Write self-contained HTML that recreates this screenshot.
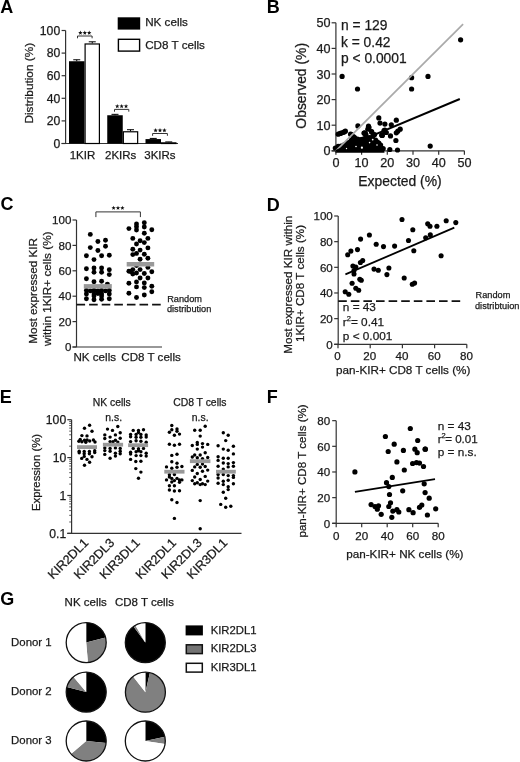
<!DOCTYPE html>
<html><head><meta charset="utf-8"><style>
html,body{margin:0;padding:0;background:#fff;}
svg{display:block;will-change:transform;}
text{font-family:"Liberation Sans", sans-serif;}
</style></head><body>
<svg width="520" height="762" viewBox="0 0 520 762" font-family='"Liberation Sans", sans-serif'>
<rect width="520" height="762" fill="#fff"/>
<text x="0.15" y="12.50" font-size="18" text-anchor="start" font-weight="bold" fill="#000">A</text>
<line x1="65.60" y1="30.50" x2="65.60" y2="143.50" stroke="#333" stroke-width="1.2"/>
<line x1="61.60" y1="143.50" x2="178.00" y2="143.50" stroke="#333" stroke-width="1.2"/>
<line x1="61.60" y1="143.50" x2="65.60" y2="143.50" stroke="#333" stroke-width="1.2"/>
<text x="60.20" y="147.70" font-size="12.2" text-anchor="end" fill="#1a1a1a" stroke="#1a1a1a" stroke-width="0.25">0</text>
<line x1="61.60" y1="120.90" x2="65.60" y2="120.90" stroke="#333" stroke-width="1.2"/>
<text x="60.20" y="125.10" font-size="12.2" text-anchor="end" fill="#1a1a1a" stroke="#1a1a1a" stroke-width="0.25">20</text>
<line x1="61.60" y1="98.30" x2="65.60" y2="98.30" stroke="#333" stroke-width="1.2"/>
<text x="60.20" y="102.50" font-size="12.2" text-anchor="end" fill="#1a1a1a" stroke="#1a1a1a" stroke-width="0.25">40</text>
<line x1="61.60" y1="75.70" x2="65.60" y2="75.70" stroke="#333" stroke-width="1.2"/>
<text x="60.20" y="79.90" font-size="12.2" text-anchor="end" fill="#1a1a1a" stroke="#1a1a1a" stroke-width="0.25">60</text>
<line x1="61.60" y1="53.10" x2="65.60" y2="53.10" stroke="#333" stroke-width="1.2"/>
<text x="60.20" y="57.30" font-size="12.2" text-anchor="end" fill="#1a1a1a" stroke="#1a1a1a" stroke-width="0.25">80</text>
<line x1="61.60" y1="30.50" x2="65.60" y2="30.50" stroke="#333" stroke-width="1.2"/>
<text x="60.20" y="34.70" font-size="12.2" text-anchor="end" fill="#1a1a1a" stroke="#1a1a1a" stroke-width="0.25">100</text>
<text x="32.60" y="83.20" font-size="11.8" text-anchor="middle" transform="rotate(-90 32.60 83.20)" fill="#1a1a1a" stroke="#1a1a1a" stroke-width="0.25">Distribution (%)</text>
<rect x="69.00" y="61.24" width="15.50" height="82.26" fill="#000"/>
<line x1="76.75" y1="61.24" x2="76.75" y2="59.77" stroke="#000" stroke-width="1"/>
<line x1="73.25" y1="59.77" x2="80.25" y2="59.77" stroke="#000" stroke-width="1"/>
<rect x="85.10" y="43.98" width="14.30" height="99.52" fill="#fff" stroke="#000" stroke-width="1.2"/>
<line x1="92.25" y1="43.38" x2="92.25" y2="41.80" stroke="#000" stroke-width="1"/>
<line x1="88.75" y1="41.80" x2="95.75" y2="41.80" stroke="#000" stroke-width="1"/>
<rect x="107.25" y="115.25" width="15.50" height="28.25" fill="#000"/>
<line x1="115.00" y1="115.25" x2="115.00" y2="114.35" stroke="#000" stroke-width="1"/>
<line x1="111.50" y1="114.35" x2="118.50" y2="114.35" stroke="#000" stroke-width="1"/>
<rect x="123.35" y="131.78" width="14.30" height="11.72" fill="#fff" stroke="#000" stroke-width="1.2"/>
<line x1="130.50" y1="131.18" x2="130.50" y2="129.71" stroke="#000" stroke-width="1"/>
<line x1="127.00" y1="129.71" x2="134.00" y2="129.71" stroke="#000" stroke-width="1"/>
<rect x="145.50" y="139.09" width="15.50" height="4.41" fill="#000"/>
<line x1="153.25" y1="139.09" x2="153.25" y2="138.41" stroke="#000" stroke-width="1"/>
<line x1="149.75" y1="138.41" x2="156.75" y2="138.41" stroke="#000" stroke-width="1"/>
<rect x="161.60" y="142.86" width="14.30" height="0.64" fill="#fff" stroke="#000" stroke-width="1.2"/>
<line x1="168.75" y1="142.26" x2="168.75" y2="141.92" stroke="#000" stroke-width="1"/>
<line x1="165.25" y1="141.92" x2="172.25" y2="141.92" stroke="#000" stroke-width="1"/>
<path d="M77.5 38.3 V36.0 H92.1 V38.3" fill="none" stroke="#333" stroke-width="1"/>
<polygon points="80.40,30.60 80.99,32.09 82.59,32.19 81.35,33.21 81.75,34.76 80.40,33.90 79.05,34.76 79.45,33.21 78.21,32.19 79.81,32.09" fill="#111"/>
<polygon points="84.80,30.60 85.39,32.09 86.99,32.19 85.75,33.21 86.15,34.76 84.80,33.90 83.45,34.76 83.85,33.21 82.61,32.19 84.21,32.09" fill="#111"/>
<polygon points="89.20,30.60 89.79,32.09 91.39,32.19 90.15,33.21 90.55,34.76 89.20,33.90 87.85,34.76 88.25,33.21 87.01,32.19 88.61,32.09" fill="#111"/>
<path d="M114.5 111.7 V109.4 H128.8 V111.7" fill="none" stroke="#333" stroke-width="1"/>
<polygon points="117.25,104.00 117.84,105.49 119.44,105.59 118.20,106.61 118.60,108.16 117.25,107.30 115.90,108.16 116.30,106.61 115.06,105.59 116.66,105.49" fill="#111"/>
<polygon points="121.65,104.00 122.24,105.49 123.84,105.59 122.60,106.61 123.00,108.16 121.65,107.30 120.30,108.16 120.70,106.61 119.46,105.59 121.06,105.49" fill="#111"/>
<polygon points="126.05,104.00 126.64,105.49 128.24,105.59 127.00,106.61 127.40,108.16 126.05,107.30 124.70,108.16 125.10,106.61 123.86,105.59 125.46,105.49" fill="#111"/>
<path d="M152.6 135.8 V133.5 H167.4 V135.8" fill="none" stroke="#333" stroke-width="1"/>
<polygon points="155.60,128.10 156.19,129.59 157.79,129.69 156.55,130.71 156.95,132.26 155.60,131.40 154.25,132.26 154.65,130.71 153.41,129.69 155.01,129.59" fill="#111"/>
<polygon points="160.00,128.10 160.59,129.59 162.19,129.69 160.95,130.71 161.35,132.26 160.00,131.40 158.65,132.26 159.05,130.71 157.81,129.69 159.41,129.59" fill="#111"/>
<polygon points="164.40,128.10 164.99,129.59 166.59,129.69 165.35,130.71 165.75,132.26 164.40,131.40 163.05,132.26 163.45,130.71 162.21,129.69 163.81,129.59" fill="#111"/>
<text x="82.50" y="158.50" font-size="11.5" text-anchor="middle" fill="#1a1a1a" stroke="#1a1a1a" stroke-width="0.25">1KIR</text>
<text x="120.70" y="158.50" font-size="11.5" text-anchor="middle" fill="#1a1a1a" stroke="#1a1a1a" stroke-width="0.25">2KIRs</text>
<text x="159.90" y="158.50" font-size="11.5" text-anchor="middle" fill="#1a1a1a" stroke="#1a1a1a" stroke-width="0.25">3KIRs</text>
<rect x="117.70" y="17.30" width="22.50" height="12.30" fill="#000"/>
<rect x="118.4" y="39.3" width="21.2" height="11.8" fill="#fff" stroke="#000" stroke-width="1.4"/>
<text x="145.20" y="26.40" font-size="11.65" text-anchor="start" fill="#1a1a1a" stroke="#1a1a1a" stroke-width="0.25">NK cells</text>
<text x="145.20" y="48.60" font-size="11.65" text-anchor="start" fill="#1a1a1a" stroke="#1a1a1a" stroke-width="0.25">CD8 T cells</text>
<text x="266.80" y="12.70" font-size="18" text-anchor="start" font-weight="bold" fill="#000">B</text>
<line x1="335.90" y1="22.80" x2="335.90" y2="150.80" stroke="#333" stroke-width="1.2"/>
<line x1="331.60" y1="150.80" x2="464.40" y2="150.80" stroke="#333" stroke-width="1.2"/>
<line x1="331.60" y1="150.80" x2="335.90" y2="150.80" stroke="#333" stroke-width="1.2"/>
<text x="330.60" y="155.30" font-size="12.6" text-anchor="end" fill="#1a1a1a" stroke="#1a1a1a" stroke-width="0.25">0</text>
<line x1="335.90" y1="150.80" x2="335.90" y2="154.80" stroke="#333" stroke-width="1.2"/>
<text x="335.90" y="167.30" font-size="12.6" text-anchor="middle" fill="#1a1a1a" stroke="#1a1a1a" stroke-width="0.25">0</text>
<line x1="331.60" y1="125.20" x2="335.90" y2="125.20" stroke="#333" stroke-width="1.2"/>
<text x="330.60" y="129.70" font-size="12.6" text-anchor="end" fill="#1a1a1a" stroke="#1a1a1a" stroke-width="0.25">10</text>
<line x1="361.60" y1="150.80" x2="361.60" y2="154.80" stroke="#333" stroke-width="1.2"/>
<text x="361.60" y="167.30" font-size="12.6" text-anchor="middle" fill="#1a1a1a" stroke="#1a1a1a" stroke-width="0.25">10</text>
<line x1="331.60" y1="99.60" x2="335.90" y2="99.60" stroke="#333" stroke-width="1.2"/>
<text x="330.60" y="104.10" font-size="12.6" text-anchor="end" fill="#1a1a1a" stroke="#1a1a1a" stroke-width="0.25">20</text>
<line x1="387.30" y1="150.80" x2="387.30" y2="154.80" stroke="#333" stroke-width="1.2"/>
<text x="387.30" y="167.30" font-size="12.6" text-anchor="middle" fill="#1a1a1a" stroke="#1a1a1a" stroke-width="0.25">20</text>
<line x1="331.60" y1="74.00" x2="335.90" y2="74.00" stroke="#333" stroke-width="1.2"/>
<text x="330.60" y="78.50" font-size="12.6" text-anchor="end" fill="#1a1a1a" stroke="#1a1a1a" stroke-width="0.25">30</text>
<line x1="413.00" y1="150.80" x2="413.00" y2="154.80" stroke="#333" stroke-width="1.2"/>
<text x="413.00" y="167.30" font-size="12.6" text-anchor="middle" fill="#1a1a1a" stroke="#1a1a1a" stroke-width="0.25">30</text>
<line x1="331.60" y1="48.40" x2="335.90" y2="48.40" stroke="#333" stroke-width="1.2"/>
<text x="330.60" y="52.90" font-size="12.6" text-anchor="end" fill="#1a1a1a" stroke="#1a1a1a" stroke-width="0.25">40</text>
<line x1="438.70" y1="150.80" x2="438.70" y2="154.80" stroke="#333" stroke-width="1.2"/>
<text x="438.70" y="167.30" font-size="12.6" text-anchor="middle" fill="#1a1a1a" stroke="#1a1a1a" stroke-width="0.25">40</text>
<line x1="331.60" y1="22.80" x2="335.90" y2="22.80" stroke="#333" stroke-width="1.2"/>
<text x="330.60" y="27.30" font-size="12.6" text-anchor="end" fill="#1a1a1a" stroke="#1a1a1a" stroke-width="0.25">50</text>
<line x1="464.40" y1="150.80" x2="464.40" y2="154.80" stroke="#333" stroke-width="1.2"/>
<text x="464.40" y="167.30" font-size="12.6" text-anchor="middle" fill="#1a1a1a" stroke="#1a1a1a" stroke-width="0.25">50</text>
<text x="306.50" y="85.80" font-size="13.9" text-anchor="middle" transform="rotate(-90 306.50 85.80)" fill="#1a1a1a" stroke="#1a1a1a" stroke-width="0.25">Observed (%)</text>
<text x="400.00" y="185.90" font-size="13.9" text-anchor="middle" fill="#1a1a1a" stroke="#1a1a1a" stroke-width="0.25">Expected (%)</text>
<polygon points="335.5,146.5 338,145 341,144 345,142.3 349,140.5 352,138.5 355,138 358,137.5 361,137 364.5,136.5 368.5,136.2 372,136.8 376,138.5 379,140 381,142.5 383,146.5 384,149.5 384.5,152.8 335.5,152.8" fill="#000"/>
<g fill="#000"><circle cx="460.6" cy="39.8" r="2.6"/><circle cx="342.1" cy="76.4" r="2.6"/><circle cx="357.5" cy="89.0" r="2.6"/><circle cx="411.6" cy="77.7" r="2.6"/><circle cx="411.6" cy="89.0" r="2.6"/><circle cx="428.0" cy="76.4" r="2.6"/><circle cx="430.2" cy="146.1" r="2.6"/><circle cx="378.8" cy="117.9" r="2.6"/><circle cx="396.3" cy="120.2" r="2.6"/><circle cx="380.0" cy="123.1" r="2.6"/><circle cx="384.9" cy="124.1" r="2.6"/><circle cx="391.3" cy="124.8" r="2.6"/><circle cx="368.5" cy="126.2" r="2.6"/><circle cx="367.8" cy="129.2" r="2.6"/><circle cx="400.2" cy="129.2" r="2.6"/><circle cx="397.8" cy="131.2" r="2.6"/><circle cx="396.3" cy="132.8" r="2.6"/><circle cx="384.8" cy="130.0" r="2.6"/><circle cx="386.3" cy="132.5" r="2.6"/><circle cx="390.5" cy="135.9" r="2.6"/><circle cx="381.8" cy="135.2" r="2.6"/><circle cx="365.5" cy="133.8" r="2.6"/><circle cx="371.7" cy="131.9" r="2.6"/><circle cx="373.2" cy="135.4" r="2.6"/><circle cx="395.9" cy="140.5" r="2.6"/><circle cx="389.8" cy="149.5" r="2.6"/><circle cx="397.5" cy="150.0" r="2.6"/><circle cx="357.9" cy="125.9" r="2.6"/><circle cx="338.2" cy="134.2" r="2.6"/><circle cx="340.9" cy="133.2" r="2.6"/><circle cx="343.3" cy="132.3" r="2.6"/><circle cx="345.4" cy="131.2" r="2.6"/><circle cx="350.6" cy="134.2" r="2.6"/><circle cx="364.5" cy="133.2" r="2.6"/><circle cx="365.9" cy="134.5" r="2.6"/><circle cx="353.4" cy="136.6" r="2.6"/><circle cx="354.8" cy="139.0" r="2.6"/><circle cx="335.3" cy="148.0" r="2.6"/><circle cx="338.2" cy="146.4" r="2.6"/><circle cx="341.0" cy="146.0" r="2.6"/><circle cx="344.5" cy="144.6" r="2.6"/><circle cx="348.4" cy="142.7" r="2.6"/><circle cx="351.5" cy="139.9" r="2.6"/><circle cx="354.9" cy="141.0" r="2.6"/><circle cx="357.5" cy="139.2" r="2.6"/><circle cx="361.2" cy="140.3" r="2.6"/><circle cx="364.6" cy="138.6" r="2.6"/><circle cx="369.1" cy="137.5" r="2.6"/><circle cx="372.4" cy="138.6" r="2.6"/><circle cx="375.6" cy="140.0" r="2.6"/><circle cx="378.8" cy="143.0" r="2.6"/><circle cx="380.6" cy="145.0" r="2.6"/><circle cx="383.2" cy="148.5" r="2.6"/><circle cx="340.0" cy="133.5" r="2.6"/><circle cx="344.0" cy="132.0" r="2.6"/><circle cx="364.0" cy="133.0" r="2.6"/><circle cx="369.0" cy="127.5" r="2.6"/><circle cx="382.0" cy="135.0" r="2.6"/><circle cx="384.0" cy="130.5" r="2.6"/><circle cx="351.5" cy="134.6" r="2.6"/><circle cx="364.6" cy="133.1" r="2.6"/><circle cx="371.5" cy="131.5" r="2.6"/><circle cx="374.6" cy="134.6" r="2.6"/><circle cx="354.6" cy="137.7" r="2.6"/><circle cx="382.3" cy="135.4" r="2.6"/></g>
<g fill="#fff"><circle cx="361.9" cy="147.7" r="1.1"/><circle cx="369.6" cy="142.6" r="0.8"/><circle cx="372.7" cy="139.6" r="0.9"/><circle cx="356.0" cy="146.5" r="0.8"/><circle cx="346.5" cy="148.5" r="0.7"/><circle cx="377.0" cy="145.0" r="0.8"/></g>
<line x1="335.90" y1="150.80" x2="463.11" y2="24.08" stroke="#aaaaaa" stroke-width="1.7"/>
<line x1="335.90" y1="150.80" x2="459.80" y2="99.00" stroke="#000" stroke-width="2.0"/>
<text x="341.00" y="29.80" font-size="13.8" text-anchor="start" fill="#1a1a1a" stroke="#1a1a1a" stroke-width="0.25">n = 129</text>
<text x="341.00" y="46.50" font-size="13.8" text-anchor="start" fill="#1a1a1a" stroke="#1a1a1a" stroke-width="0.25">k = 0.42</text>
<text x="341.00" y="63.00" font-size="13.8" text-anchor="start" fill="#1a1a1a" stroke="#1a1a1a" stroke-width="0.25">p &lt; 0.0001</text>
<text x="0.40" y="209.50" font-size="18" text-anchor="start" font-weight="bold" fill="#000">C</text>
<line x1="76.50" y1="220.00" x2="76.50" y2="347.00" stroke="#333" stroke-width="1.2"/>
<line x1="72.50" y1="347.00" x2="162.00" y2="347.00" stroke="#333" stroke-width="1.2"/>
<line x1="72.50" y1="347.00" x2="76.50" y2="347.00" stroke="#333" stroke-width="1.2"/>
<text x="71.40" y="351.20" font-size="11.6" text-anchor="end" fill="#1a1a1a" stroke="#1a1a1a" stroke-width="0.25">0</text>
<line x1="72.50" y1="321.60" x2="76.50" y2="321.60" stroke="#333" stroke-width="1.2"/>
<text x="71.40" y="325.80" font-size="11.6" text-anchor="end" fill="#1a1a1a" stroke="#1a1a1a" stroke-width="0.25">20</text>
<line x1="72.50" y1="296.20" x2="76.50" y2="296.20" stroke="#333" stroke-width="1.2"/>
<text x="71.40" y="300.40" font-size="11.6" text-anchor="end" fill="#1a1a1a" stroke="#1a1a1a" stroke-width="0.25">40</text>
<line x1="72.50" y1="270.80" x2="76.50" y2="270.80" stroke="#333" stroke-width="1.2"/>
<text x="71.40" y="275.00" font-size="11.6" text-anchor="end" fill="#1a1a1a" stroke="#1a1a1a" stroke-width="0.25">60</text>
<line x1="72.50" y1="245.40" x2="76.50" y2="245.40" stroke="#333" stroke-width="1.2"/>
<text x="71.40" y="249.60" font-size="11.6" text-anchor="end" fill="#1a1a1a" stroke="#1a1a1a" stroke-width="0.25">80</text>
<line x1="72.50" y1="220.00" x2="76.50" y2="220.00" stroke="#333" stroke-width="1.2"/>
<text x="71.40" y="224.20" font-size="11.6" text-anchor="end" fill="#1a1a1a" stroke="#1a1a1a" stroke-width="0.25">100</text>
<text x="36.60" y="290.80" font-size="11.75" text-anchor="middle" transform="rotate(-90 36.60 290.80)" fill="#1a1a1a" stroke="#1a1a1a" stroke-width="0.25">Most expressed KIR</text>
<text x="51.00" y="288.80" font-size="11.75" text-anchor="middle" transform="rotate(-90 51.00 288.80)" fill="#1a1a1a" stroke="#1a1a1a" stroke-width="0.25">within 1KIR+ cells (%)</text>
<text x="73.50" y="360.50" font-size="11.6" text-anchor="start" fill="#1a1a1a" stroke="#1a1a1a" stroke-width="0.25">NK cells</text>
<text x="121.30" y="360.50" font-size="11.6" text-anchor="start" fill="#1a1a1a" stroke="#1a1a1a" stroke-width="0.25">CD8 T cells</text>
<line x1="76.50" y1="304.60" x2="162.00" y2="304.60" stroke="#111" stroke-width="1.9" stroke-dasharray="8.6 4.0"/>
<text x="167.20" y="301.50" font-size="9.2" text-anchor="start" fill="#1a1a1a" stroke="#1a1a1a" stroke-width="0.25">Random</text>
<text x="166.90" y="312.20" font-size="9.2" text-anchor="start" fill="#1a1a1a" stroke="#1a1a1a" stroke-width="0.25">distribution</text>
<path d="M95.9 217.1 V211.9 H140.4 V217.1" fill="none" stroke="#333" stroke-width="1"/>
<polygon points="113.60,205.70 114.19,207.19 115.79,207.29 114.55,208.31 114.95,209.86 113.60,209.00 112.25,209.86 112.65,208.31 111.41,207.29 113.01,207.19" fill="#111"/>
<polygon points="118.00,205.70 118.59,207.19 120.19,207.29 118.95,208.31 119.35,209.86 118.00,209.00 116.65,209.86 117.05,208.31 115.81,207.29 117.41,207.19" fill="#111"/>
<polygon points="122.40,205.70 122.99,207.19 124.59,207.29 123.35,208.31 123.75,209.86 122.40,209.00 121.05,209.86 121.45,208.31 120.21,207.29 121.81,207.19" fill="#111"/>
<g fill="#000"><circle cx="90.3" cy="234.4" r="2.45"/><circle cx="97.9" cy="241.5" r="2.45"/><circle cx="105.5" cy="240.2" r="2.45"/><circle cx="90.3" cy="247.6" r="2.45"/><circle cx="105.5" cy="246.3" r="2.45"/><circle cx="97.9" cy="250.5" r="2.45"/><circle cx="86.4" cy="255.7" r="2.45"/><circle cx="101.6" cy="255.7" r="2.45"/><circle cx="109.3" cy="255.2" r="2.45"/><circle cx="94.0" cy="259.6" r="2.45"/><circle cx="86.4" cy="268.8" r="2.45"/><circle cx="94.0" cy="268.0" r="2.45"/><circle cx="101.6" cy="268.0" r="2.45"/><circle cx="109.3" cy="269.7" r="2.45"/><circle cx="94.0" cy="272.2" r="2.45"/><circle cx="101.6" cy="272.2" r="2.45"/><circle cx="109.3" cy="274.6" r="2.45"/><circle cx="86.4" cy="278.8" r="2.45"/><circle cx="94.0" cy="281.7" r="2.45"/><circle cx="101.6" cy="281.2" r="2.45"/><circle cx="107.4" cy="284.1" r="2.45"/><circle cx="86.4" cy="290.4" r="2.45"/><circle cx="90.3" cy="290.9" r="2.45"/><circle cx="94.0" cy="290.4" r="2.45"/><circle cx="97.9" cy="290.9" r="2.45"/><circle cx="101.6" cy="290.4" r="2.45"/><circle cx="105.5" cy="290.9" r="2.45"/><circle cx="109.3" cy="290.4" r="2.45"/><circle cx="86.4" cy="294.0" r="2.45"/><circle cx="94.0" cy="294.0" r="2.45"/><circle cx="97.9" cy="293.5" r="2.45"/><circle cx="101.6" cy="294.0" r="2.45"/><circle cx="109.3" cy="294.0" r="2.45"/><circle cx="86.4" cy="298.8" r="2.45"/><circle cx="94.0" cy="299.8" r="2.45"/><circle cx="101.6" cy="299.3" r="2.45"/><circle cx="109.3" cy="298.8" r="2.45"/><circle cx="94.0" cy="296.1" r="2.45"/><circle cx="101.6" cy="296.1" r="2.45"/></g>
<g fill="#000"><circle cx="136.5" cy="223.9" r="2.45"/><circle cx="144.3" cy="222.8" r="2.45"/><circle cx="136.5" cy="226.7" r="2.45"/><circle cx="144.3" cy="227.0" r="2.45"/><circle cx="128.9" cy="228.6" r="2.45"/><circle cx="136.5" cy="230.0" r="2.45"/><circle cx="151.8" cy="229.8" r="2.45"/><circle cx="144.3" cy="233.2" r="2.45"/><circle cx="132.8" cy="238.4" r="2.45"/><circle cx="147.9" cy="238.4" r="2.45"/><circle cx="140.1" cy="240.8" r="2.45"/><circle cx="136.5" cy="244.0" r="2.45"/><circle cx="144.3" cy="242.6" r="2.45"/><circle cx="147.9" cy="247.9" r="2.45"/><circle cx="132.8" cy="249.3" r="2.45"/><circle cx="140.1" cy="250.1" r="2.45"/><circle cx="136.5" cy="253.4" r="2.45"/><circle cx="132.8" cy="254.6" r="2.45"/><circle cx="144.3" cy="254.2" r="2.45"/><circle cx="140.1" cy="259.3" r="2.45"/><circle cx="147.9" cy="258.2" r="2.45"/><circle cx="136.5" cy="265.5" r="2.45"/><circle cx="147.9" cy="267.4" r="2.45"/><circle cx="128.9" cy="271.3" r="2.45"/><circle cx="132.8" cy="269.6" r="2.45"/><circle cx="132.8" cy="274.0" r="2.45"/><circle cx="136.5" cy="273.0" r="2.45"/><circle cx="140.1" cy="269.6" r="2.45"/><circle cx="144.3" cy="273.5" r="2.45"/><circle cx="151.8" cy="271.8" r="2.45"/><circle cx="140.1" cy="278.0" r="2.45"/><circle cx="147.9" cy="278.0" r="2.45"/><circle cx="128.9" cy="283.2" r="2.45"/><circle cx="136.5" cy="281.9" r="2.45"/><circle cx="144.3" cy="283.0" r="2.45"/><circle cx="136.5" cy="286.9" r="2.45"/><circle cx="144.3" cy="287.6" r="2.45"/><circle cx="151.8" cy="286.3" r="2.45"/><circle cx="151.8" cy="291.7" r="2.45"/><circle cx="128.9" cy="293.3" r="2.45"/><circle cx="144.3" cy="295.0" r="2.45"/><circle cx="136.5" cy="297.5" r="2.45"/><circle cx="131.1" cy="271.8" r="2.45"/></g>
<rect x="83.80" y="284.10" width="28.00" height="4.50" fill="#999"/>
<rect x="126.70" y="262.00" width="27.50" height="4.50" fill="#999"/>
<text x="266.80" y="210.50" font-size="18" text-anchor="start" font-weight="bold" fill="#000">D</text>
<line x1="338.20" y1="216.00" x2="338.20" y2="344.30" stroke="#333" stroke-width="1.2"/>
<line x1="334.20" y1="344.30" x2="466.80" y2="344.30" stroke="#333" stroke-width="1.2"/>
<line x1="334.20" y1="344.30" x2="338.20" y2="344.30" stroke="#333" stroke-width="1.2"/>
<text x="332.80" y="348.50" font-size="11.6" text-anchor="end" fill="#1a1a1a" stroke="#1a1a1a" stroke-width="0.25">0</text>
<line x1="334.20" y1="318.64" x2="338.20" y2="318.64" stroke="#333" stroke-width="1.2"/>
<text x="332.80" y="322.84" font-size="11.6" text-anchor="end" fill="#1a1a1a" stroke="#1a1a1a" stroke-width="0.25">20</text>
<line x1="334.20" y1="292.98" x2="338.20" y2="292.98" stroke="#333" stroke-width="1.2"/>
<text x="332.80" y="297.18" font-size="11.6" text-anchor="end" fill="#1a1a1a" stroke="#1a1a1a" stroke-width="0.25">40</text>
<line x1="334.20" y1="267.32" x2="338.20" y2="267.32" stroke="#333" stroke-width="1.2"/>
<text x="332.80" y="271.52" font-size="11.6" text-anchor="end" fill="#1a1a1a" stroke="#1a1a1a" stroke-width="0.25">60</text>
<line x1="334.20" y1="241.66" x2="338.20" y2="241.66" stroke="#333" stroke-width="1.2"/>
<text x="332.80" y="245.86" font-size="11.6" text-anchor="end" fill="#1a1a1a" stroke="#1a1a1a" stroke-width="0.25">80</text>
<line x1="334.20" y1="216.00" x2="338.20" y2="216.00" stroke="#333" stroke-width="1.2"/>
<text x="332.80" y="220.20" font-size="11.6" text-anchor="end" fill="#1a1a1a" stroke="#1a1a1a" stroke-width="0.25">100</text>
<line x1="338.00" y1="344.30" x2="338.00" y2="348.30" stroke="#333" stroke-width="1.2"/>
<text x="337.60" y="360.00" font-size="11.6" text-anchor="middle" fill="#1a1a1a" stroke="#1a1a1a" stroke-width="0.25">0</text>
<line x1="370.20" y1="344.30" x2="370.20" y2="348.30" stroke="#333" stroke-width="1.2"/>
<text x="369.80" y="360.00" font-size="11.6" text-anchor="middle" fill="#1a1a1a" stroke="#1a1a1a" stroke-width="0.25">20</text>
<line x1="402.40" y1="344.30" x2="402.40" y2="348.30" stroke="#333" stroke-width="1.2"/>
<text x="402.00" y="360.00" font-size="11.6" text-anchor="middle" fill="#1a1a1a" stroke="#1a1a1a" stroke-width="0.25">40</text>
<line x1="434.60" y1="344.30" x2="434.60" y2="348.30" stroke="#333" stroke-width="1.2"/>
<text x="434.20" y="360.00" font-size="11.6" text-anchor="middle" fill="#1a1a1a" stroke="#1a1a1a" stroke-width="0.25">60</text>
<line x1="466.80" y1="344.30" x2="466.80" y2="348.30" stroke="#333" stroke-width="1.2"/>
<text x="466.40" y="360.00" font-size="11.6" text-anchor="middle" fill="#1a1a1a" stroke="#1a1a1a" stroke-width="0.25">80</text>
<text x="292.00" y="284.70" font-size="11.66" text-anchor="middle" transform="rotate(-90 292.00 284.70)" fill="#1a1a1a" stroke="#1a1a1a" stroke-width="0.25">Most expressed KIR within</text>
<text x="304.20" y="283.50" font-size="11.66" text-anchor="middle" transform="rotate(-90 304.20 283.50)" fill="#1a1a1a" stroke="#1a1a1a" stroke-width="0.25">1KIR+ CD8 T cells (%)</text>
<text x="403.20" y="374.00" font-size="11.7" text-anchor="middle" fill="#1a1a1a" stroke="#1a1a1a" stroke-width="0.25">pan-KIR+ CD8 T cells (%)</text>
<line x1="338.20" y1="301.10" x2="462.00" y2="301.10" stroke="#111" stroke-width="1.9" stroke-dasharray="8.6 4.0"/>
<text x="475.60" y="298.10" font-size="9.2" text-anchor="start" fill="#1a1a1a" stroke="#1a1a1a" stroke-width="0.25">Random</text>
<text x="475.00" y="308.80" font-size="9.2" text-anchor="start" fill="#1a1a1a" stroke="#1a1a1a" stroke-width="0.25">distribtuion</text>
<g fill="#000"><circle cx="369.4" cy="235.0" r="2.55"/><circle cx="360.6" cy="239.1" r="2.55"/><circle cx="376.2" cy="244.3" r="2.55"/><circle cx="383.5" cy="246.6" r="2.55"/><circle cx="394.6" cy="246.1" r="2.55"/><circle cx="350.9" cy="251.1" r="2.55"/><circle cx="357.5" cy="249.6" r="2.55"/><circle cx="347.7" cy="254.8" r="2.55"/><circle cx="362.7" cy="260.5" r="2.55"/><circle cx="360.4" cy="262.5" r="2.55"/><circle cx="352.9" cy="266.0" r="2.55"/><circle cx="355.8" cy="267.1" r="2.55"/><circle cx="354.0" cy="270.6" r="2.55"/><circle cx="354.0" cy="274.0" r="2.55"/><circle cx="374.0" cy="269.1" r="2.55"/><circle cx="378.3" cy="270.2" r="2.55"/><circle cx="388.9" cy="268.0" r="2.55"/><circle cx="386.9" cy="274.6" r="2.55"/><circle cx="359.8" cy="279.2" r="2.55"/><circle cx="361.3" cy="280.2" r="2.55"/><circle cx="352.1" cy="283.3" r="2.55"/><circle cx="355.8" cy="288.2" r="2.55"/><circle cx="358.7" cy="290.2" r="2.55"/><circle cx="345.2" cy="291.7" r="2.55"/><circle cx="348.8" cy="294.2" r="2.55"/><circle cx="402.0" cy="219.5" r="2.55"/><circle cx="412.8" cy="229.7" r="2.55"/><circle cx="427.7" cy="223.8" r="2.55"/><circle cx="430.0" cy="226.2" r="2.55"/><circle cx="436.9" cy="226.2" r="2.55"/><circle cx="446.2" cy="220.8" r="2.55"/><circle cx="455.8" cy="222.6" r="2.55"/><circle cx="408.5" cy="240.5" r="2.55"/><circle cx="425.7" cy="237.7" r="2.55"/><circle cx="430.3" cy="234.9" r="2.55"/><circle cx="413.8" cy="250.8" r="2.55"/><circle cx="441.1" cy="255.8" r="2.55"/><circle cx="404.2" cy="278.0" r="2.55"/><circle cx="412.3" cy="284.2" r="2.55"/><circle cx="414.6" cy="283.1" r="2.55"/></g>
<line x1="345.40" y1="274.40" x2="454.30" y2="227.70" stroke="#000" stroke-width="1.8"/>
<text x="342.80" y="311.20" font-size="11.8" text-anchor="start" fill="#1a1a1a" stroke="#1a1a1a" stroke-width="0.25">n = 43</text>
<text x="342.80" y="325.70" font-size="11.8" text-anchor="start" fill="#1a1a1a" stroke="#1a1a1a" stroke-width="0.25">r<tspan font-size="7.5" dy="-5">2</tspan><tspan dy="5">= 0.41</tspan></text>
<text x="342.80" y="340.10" font-size="11.8" text-anchor="start" fill="#1a1a1a" stroke="#1a1a1a" stroke-width="0.25">p &lt; 0.001</text>
<text x="-0.30" y="402.80" font-size="18" text-anchor="start" font-weight="bold" fill="#000">E</text>
<line x1="71.60" y1="419.70" x2="71.60" y2="533.40" stroke="#333" stroke-width="1.2"/>
<line x1="67.30" y1="533.40" x2="241.50" y2="533.40" stroke="#333" stroke-width="1.2"/>
<line x1="67.30" y1="533.40" x2="71.60" y2="533.40" stroke="#333" stroke-width="1.2"/>
<line x1="67.30" y1="495.50" x2="71.60" y2="495.50" stroke="#333" stroke-width="1.2"/>
<line x1="67.30" y1="457.60" x2="71.60" y2="457.60" stroke="#333" stroke-width="1.2"/>
<line x1="67.30" y1="419.70" x2="71.60" y2="419.70" stroke="#333" stroke-width="1.2"/>
<line x1="69.20" y1="521.99" x2="71.60" y2="521.99" stroke="#333" stroke-width="0.8"/>
<line x1="69.20" y1="515.32" x2="71.60" y2="515.32" stroke="#333" stroke-width="0.8"/>
<line x1="69.20" y1="510.58" x2="71.60" y2="510.58" stroke="#333" stroke-width="0.8"/>
<line x1="69.20" y1="506.91" x2="71.60" y2="506.91" stroke="#333" stroke-width="0.8"/>
<line x1="69.20" y1="503.91" x2="71.60" y2="503.91" stroke="#333" stroke-width="0.8"/>
<line x1="69.20" y1="501.37" x2="71.60" y2="501.37" stroke="#333" stroke-width="0.8"/>
<line x1="69.20" y1="499.17" x2="71.60" y2="499.17" stroke="#333" stroke-width="0.8"/>
<line x1="69.20" y1="497.23" x2="71.60" y2="497.23" stroke="#333" stroke-width="0.8"/>
<line x1="69.20" y1="484.09" x2="71.60" y2="484.09" stroke="#333" stroke-width="0.8"/>
<line x1="69.20" y1="477.42" x2="71.60" y2="477.42" stroke="#333" stroke-width="0.8"/>
<line x1="69.20" y1="472.68" x2="71.60" y2="472.68" stroke="#333" stroke-width="0.8"/>
<line x1="69.20" y1="469.01" x2="71.60" y2="469.01" stroke="#333" stroke-width="0.8"/>
<line x1="69.20" y1="466.01" x2="71.60" y2="466.01" stroke="#333" stroke-width="0.8"/>
<line x1="69.20" y1="463.47" x2="71.60" y2="463.47" stroke="#333" stroke-width="0.8"/>
<line x1="69.20" y1="461.27" x2="71.60" y2="461.27" stroke="#333" stroke-width="0.8"/>
<line x1="69.20" y1="459.33" x2="71.60" y2="459.33" stroke="#333" stroke-width="0.8"/>
<line x1="69.20" y1="446.19" x2="71.60" y2="446.19" stroke="#333" stroke-width="0.8"/>
<line x1="69.20" y1="439.52" x2="71.60" y2="439.52" stroke="#333" stroke-width="0.8"/>
<line x1="69.20" y1="434.78" x2="71.60" y2="434.78" stroke="#333" stroke-width="0.8"/>
<line x1="69.20" y1="431.11" x2="71.60" y2="431.11" stroke="#333" stroke-width="0.8"/>
<line x1="69.20" y1="428.11" x2="71.60" y2="428.11" stroke="#333" stroke-width="0.8"/>
<line x1="69.20" y1="425.57" x2="71.60" y2="425.57" stroke="#333" stroke-width="0.8"/>
<line x1="69.20" y1="423.37" x2="71.60" y2="423.37" stroke="#333" stroke-width="0.8"/>
<line x1="69.20" y1="421.43" x2="71.60" y2="421.43" stroke="#333" stroke-width="0.8"/>
<text x="66.20" y="424.10" font-size="12.2" text-anchor="end" fill="#1a1a1a" stroke="#1a1a1a" stroke-width="0.25">100</text>
<text x="66.20" y="462.00" font-size="12.2" text-anchor="end" fill="#1a1a1a" stroke="#1a1a1a" stroke-width="0.25">10</text>
<text x="66.20" y="499.90" font-size="12.2" text-anchor="end" fill="#1a1a1a" stroke="#1a1a1a" stroke-width="0.25">1</text>
<text x="66.20" y="537.80" font-size="12.2" text-anchor="end" fill="#1a1a1a" stroke="#1a1a1a" stroke-width="0.25">0.1</text>
<text x="40.40" y="472.50" font-size="11.4" text-anchor="middle" transform="rotate(-90 40.40 472.50)" fill="#1a1a1a" stroke="#1a1a1a" stroke-width="0.25">Expression (%)</text>
<text x="111.70" y="405.80" font-size="10.4" text-anchor="middle" fill="#1a1a1a" stroke="#1a1a1a" stroke-width="0.25">NK cells</text>
<text x="113.70" y="420.60" font-size="10.4" text-anchor="middle" fill="#1a1a1a" stroke="#1a1a1a" stroke-width="0.25">n.s.</text>
<text x="199.80" y="405.70" font-size="10.4" text-anchor="middle" fill="#1a1a1a" stroke="#1a1a1a" stroke-width="0.25">CD8 T cells</text>
<text x="200.20" y="420.60" font-size="10.4" text-anchor="middle" fill="#1a1a1a" stroke="#1a1a1a" stroke-width="0.25">n.s.</text>
<text x="89.20" y="543.60" font-size="12.6" text-anchor="end" transform="rotate(-45 89.20 543.60)" fill="#1a1a1a" stroke="#1a1a1a" stroke-width="0.25">KIR2DL1</text>
<text x="115.20" y="543.60" font-size="12.6" text-anchor="end" transform="rotate(-45 115.20 543.60)" fill="#1a1a1a" stroke="#1a1a1a" stroke-width="0.25">KIR2DL3</text>
<text x="140.80" y="543.60" font-size="12.6" text-anchor="end" transform="rotate(-45 140.80 543.60)" fill="#1a1a1a" stroke="#1a1a1a" stroke-width="0.25">KIR3DL1</text>
<text x="177.00" y="543.60" font-size="12.6" text-anchor="end" transform="rotate(-45 177.00 543.60)" fill="#1a1a1a" stroke="#1a1a1a" stroke-width="0.25">KIR2DL1</text>
<text x="202.60" y="543.60" font-size="12.6" text-anchor="end" transform="rotate(-45 202.60 543.60)" fill="#1a1a1a" stroke="#1a1a1a" stroke-width="0.25">KIR2DL3</text>
<text x="228.20" y="543.60" font-size="12.6" text-anchor="end" transform="rotate(-45 228.20 543.60)" fill="#1a1a1a" stroke="#1a1a1a" stroke-width="0.25">KIR3DL1</text>
<g fill="#000"><circle cx="89.6" cy="425.2" r="1.7"/><circle cx="84.5" cy="428.2" r="1.7"/><circle cx="92.0" cy="431.2" r="1.7"/><circle cx="81.9" cy="435.6" r="1.7"/><circle cx="87.0" cy="435.9" r="1.7"/><circle cx="80.2" cy="439.4" r="1.7"/><circle cx="78.9" cy="441.3" r="1.7"/><circle cx="81.9" cy="441.7" r="1.7"/><circle cx="84.5" cy="440.3" r="1.7"/><circle cx="87.1" cy="440.0" r="1.7"/><circle cx="85.8" cy="442.3" r="1.7"/><circle cx="89.7" cy="441.0" r="1.7"/><circle cx="93.4" cy="440.0" r="1.7"/><circle cx="95.0" cy="442.0" r="1.7"/><circle cx="79.2" cy="451.2" r="1.7"/><circle cx="79.2" cy="452.8" r="1.7"/><circle cx="84.2" cy="451.5" r="1.7"/><circle cx="84.2" cy="453.8" r="1.7"/><circle cx="89.4" cy="451.5" r="1.7"/><circle cx="89.4" cy="453.8" r="1.7"/><circle cx="94.7" cy="450.8" r="1.7"/><circle cx="94.7" cy="452.5" r="1.7"/><circle cx="84.2" cy="456.4" r="1.7"/><circle cx="92.0" cy="456.7" r="1.7"/><circle cx="81.7" cy="458.4" r="1.7"/><circle cx="87.0" cy="459.4" r="1.7"/><circle cx="89.6" cy="462.3" r="1.7"/><circle cx="84.5" cy="465.3" r="1.7"/></g>
<g fill="#000"><circle cx="117.8" cy="426.5" r="1.7"/><circle cx="107.5" cy="429.1" r="1.7"/><circle cx="112.5" cy="430.4" r="1.7"/><circle cx="120.2" cy="432.7" r="1.7"/><circle cx="104.8" cy="434.9" r="1.7"/><circle cx="115.4" cy="434.9" r="1.7"/><circle cx="110.1" cy="437.1" r="1.7"/><circle cx="104.8" cy="438.5" r="1.7"/><circle cx="120.2" cy="438.3" r="1.7"/><circle cx="115.4" cy="440.2" r="1.7"/><circle cx="110.1" cy="441.6" r="1.7"/><circle cx="113.0" cy="441.8" r="1.7"/><circle cx="117.8" cy="442.1" r="1.7"/><circle cx="104.8" cy="447.9" r="1.7"/><circle cx="104.8" cy="450.6" r="1.7"/><circle cx="110.1" cy="448.4" r="1.7"/><circle cx="110.1" cy="451.3" r="1.7"/><circle cx="115.4" cy="447.9" r="1.7"/><circle cx="120.2" cy="448.4" r="1.7"/><circle cx="120.2" cy="451.3" r="1.7"/><circle cx="120.2" cy="453.7" r="1.7"/><circle cx="115.4" cy="453.2" r="1.7"/><circle cx="115.4" cy="456.1" r="1.7"/><circle cx="104.8" cy="454.4" r="1.7"/><circle cx="110.1" cy="458.3" r="1.7"/></g>
<g fill="#000"><circle cx="133.2" cy="430.4" r="1.7"/><circle cx="138.5" cy="430.4" r="1.7"/><circle cx="143.5" cy="429.8" r="1.7"/><circle cx="130.6" cy="434.4" r="1.7"/><circle cx="130.6" cy="436.8" r="1.7"/><circle cx="136.1" cy="434.4" r="1.7"/><circle cx="136.1" cy="437.3" r="1.7"/><circle cx="140.9" cy="434.4" r="1.7"/><circle cx="140.9" cy="437.3" r="1.7"/><circle cx="146.2" cy="434.9" r="1.7"/><circle cx="146.2" cy="437.1" r="1.7"/><circle cx="138.5" cy="432.5" r="1.7"/><circle cx="130.6" cy="441.6" r="1.7"/><circle cx="136.1" cy="440.7" r="1.7"/><circle cx="140.9" cy="441.3" r="1.7"/><circle cx="146.2" cy="442.3" r="1.7"/><circle cx="133.2" cy="448.4" r="1.7"/><circle cx="138.5" cy="448.8" r="1.7"/><circle cx="143.5" cy="448.4" r="1.7"/><circle cx="130.6" cy="452.2" r="1.7"/><circle cx="130.6" cy="454.1" r="1.7"/><circle cx="136.1" cy="451.7" r="1.7"/><circle cx="136.1" cy="455.6" r="1.7"/><circle cx="140.9" cy="451.7" r="1.7"/><circle cx="140.9" cy="455.6" r="1.7"/><circle cx="146.2" cy="453.2" r="1.7"/><circle cx="146.2" cy="456.1" r="1.7"/><circle cx="138.5" cy="450.8" r="1.7"/><circle cx="130.6" cy="459.4" r="1.7"/><circle cx="135.8" cy="461.5" r="1.7"/><circle cx="140.9" cy="461.3" r="1.7"/><circle cx="135.8" cy="468.6" r="1.7"/><circle cx="140.9" cy="472.1" r="1.7"/><circle cx="138.5" cy="478.2" r="1.7"/></g>
<g fill="#000"><circle cx="171.8" cy="425.5" r="1.7"/><circle cx="177.0" cy="428.9" r="1.7"/><circle cx="171.8" cy="429.8" r="1.7"/><circle cx="169.4" cy="432.3" r="1.7"/><circle cx="177.0" cy="431.3" r="1.7"/><circle cx="179.5" cy="434.1" r="1.7"/><circle cx="174.4" cy="435.2" r="1.7"/><circle cx="169.4" cy="444.2" r="1.7"/><circle cx="174.4" cy="445.3" r="1.7"/><circle cx="179.5" cy="444.2" r="1.7"/><circle cx="171.8" cy="455.4" r="1.7"/><circle cx="177.0" cy="454.3" r="1.7"/><circle cx="171.8" cy="461.8" r="1.7"/><circle cx="177.0" cy="463.3" r="1.7"/><circle cx="166.5" cy="466.9" r="1.7"/><circle cx="171.8" cy="468.3" r="1.7"/><circle cx="177.0" cy="467.3" r="1.7"/><circle cx="181.9" cy="466.5" r="1.7"/><circle cx="169.4" cy="474.8" r="1.7"/><circle cx="174.4" cy="474.5" r="1.7"/><circle cx="166.5" cy="479.9" r="1.7"/><circle cx="171.8" cy="478.4" r="1.7"/><circle cx="177.0" cy="478.4" r="1.7"/><circle cx="179.5" cy="479.9" r="1.7"/><circle cx="181.9" cy="479.9" r="1.7"/><circle cx="169.4" cy="477.0" r="1.7"/><circle cx="174.4" cy="480.6" r="1.7"/><circle cx="171.8" cy="482.0" r="1.7"/><circle cx="179.5" cy="482.3" r="1.7"/><circle cx="169.4" cy="485.7" r="1.7"/><circle cx="174.4" cy="485.7" r="1.7"/><circle cx="169.4" cy="490.0" r="1.7"/><circle cx="174.4" cy="491.0" r="1.7"/><circle cx="179.5" cy="490.7" r="1.7"/><circle cx="171.8" cy="499.7" r="1.7"/><circle cx="177.0" cy="502.5" r="1.7"/><circle cx="174.4" cy="518.4" r="1.7"/></g>
<g fill="#000"><circle cx="205.2" cy="426.3" r="1.7"/><circle cx="194.7" cy="430.2" r="1.7"/><circle cx="200.2" cy="430.2" r="1.7"/><circle cx="200.2" cy="436.1" r="1.7"/><circle cx="197.3" cy="442.4" r="1.7"/><circle cx="197.3" cy="444.4" r="1.7"/><circle cx="202.5" cy="443.6" r="1.7"/><circle cx="192.3" cy="445.5" r="1.7"/><circle cx="207.7" cy="444.4" r="1.7"/><circle cx="202.5" cy="447.1" r="1.7"/><circle cx="197.3" cy="449.1" r="1.7"/><circle cx="205.2" cy="452.8" r="1.7"/><circle cx="194.7" cy="455.0" r="1.7"/><circle cx="200.2" cy="455.0" r="1.7"/><circle cx="192.3" cy="457.0" r="1.7"/><circle cx="197.3" cy="457.8" r="1.7"/><circle cx="202.5" cy="458.6" r="1.7"/><circle cx="207.7" cy="457.5" r="1.7"/><circle cx="197.3" cy="464.4" r="1.7"/><circle cx="202.5" cy="464.1" r="1.7"/><circle cx="194.7" cy="466.9" r="1.7"/><circle cx="200.2" cy="467.2" r="1.7"/><circle cx="205.2" cy="466.5" r="1.7"/><circle cx="192.3" cy="470.4" r="1.7"/><circle cx="202.5" cy="471.2" r="1.7"/><circle cx="207.7" cy="470.1" r="1.7"/><circle cx="197.3" cy="473.5" r="1.7"/><circle cx="194.7" cy="477.0" r="1.7"/><circle cx="205.2" cy="476.4" r="1.7"/><circle cx="192.3" cy="480.6" r="1.7"/><circle cx="200.2" cy="479.5" r="1.7"/><circle cx="207.7" cy="481.1" r="1.7"/><circle cx="194.7" cy="483.8" r="1.7"/><circle cx="197.3" cy="482.7" r="1.7"/><circle cx="200.2" cy="484.6" r="1.7"/><circle cx="202.5" cy="483.8" r="1.7"/><circle cx="205.2" cy="484.6" r="1.7"/><circle cx="200.2" cy="500.6" r="1.7"/><circle cx="200.2" cy="528.7" r="1.7"/></g>
<g fill="#000"><circle cx="223.3" cy="432.7" r="1.7"/><circle cx="228.2" cy="435.2" r="1.7"/><circle cx="225.7" cy="440.6" r="1.7"/><circle cx="218.1" cy="445.7" r="1.7"/><circle cx="233.4" cy="446.3" r="1.7"/><circle cx="223.3" cy="449.1" r="1.7"/><circle cx="228.2" cy="450.3" r="1.7"/><circle cx="233.4" cy="453.9" r="1.7"/><circle cx="218.1" cy="456.8" r="1.7"/><circle cx="218.1" cy="460.4" r="1.7"/><circle cx="223.3" cy="458.2" r="1.7"/><circle cx="228.2" cy="458.2" r="1.7"/><circle cx="223.3" cy="463.0" r="1.7"/><circle cx="228.2" cy="463.6" r="1.7"/><circle cx="233.4" cy="462.6" r="1.7"/><circle cx="228.2" cy="466.9" r="1.7"/><circle cx="233.4" cy="466.2" r="1.7"/><circle cx="218.1" cy="466.2" r="1.7"/><circle cx="223.3" cy="469.1" r="1.7"/><circle cx="218.1" cy="474.5" r="1.7"/><circle cx="223.3" cy="474.5" r="1.7"/><circle cx="228.2" cy="475.6" r="1.7"/><circle cx="233.4" cy="475.6" r="1.7"/><circle cx="233.4" cy="477.4" r="1.7"/><circle cx="218.1" cy="478.0" r="1.7"/><circle cx="228.2" cy="480.3" r="1.7"/><circle cx="223.3" cy="481.3" r="1.7"/><circle cx="223.3" cy="484.6" r="1.7"/><circle cx="218.1" cy="483.2" r="1.7"/><circle cx="233.4" cy="483.8" r="1.7"/><circle cx="228.2" cy="486.7" r="1.7"/><circle cx="228.2" cy="489.6" r="1.7"/><circle cx="223.3" cy="492.2" r="1.7"/><circle cx="225.7" cy="498.2" r="1.7"/><circle cx="220.7" cy="504.4" r="1.7"/><circle cx="225.7" cy="507.3" r="1.7"/><circle cx="230.8" cy="506.3" r="1.7"/></g>
<rect x="77.00" y="445.20" width="20.00" height="3.80" fill="#999"/>
<rect x="102.90" y="442.80" width="20.20" height="3.80" fill="#999"/>
<rect x="128.10" y="443.30" width="20.00" height="3.80" fill="#999"/>
<rect x="164.30" y="469.80" width="20.20" height="3.80" fill="#999"/>
<rect x="189.90" y="459.30" width="20.50" height="3.80" fill="#999"/>
<rect x="216.00" y="469.80" width="19.80" height="3.80" fill="#999"/>
<text x="266.80" y="402.80" font-size="18" text-anchor="start" font-weight="bold" fill="#000">F</text>
<line x1="336.20" y1="420.66" x2="336.20" y2="523.30" stroke="#333" stroke-width="1.2"/>
<line x1="332.20" y1="523.30" x2="438.20" y2="523.30" stroke="#333" stroke-width="1.2"/>
<line x1="332.20" y1="523.30" x2="336.20" y2="523.30" stroke="#333" stroke-width="1.2"/>
<text x="330.20" y="527.50" font-size="11.6" text-anchor="end" fill="#1a1a1a" stroke="#1a1a1a" stroke-width="0.25">0</text>
<line x1="336.20" y1="523.30" x2="336.20" y2="527.30" stroke="#333" stroke-width="1.2"/>
<text x="336.20" y="540.40" font-size="11.6" text-anchor="middle" fill="#1a1a1a" stroke="#1a1a1a" stroke-width="0.25">0</text>
<line x1="332.20" y1="497.64" x2="336.20" y2="497.64" stroke="#333" stroke-width="1.2"/>
<text x="330.20" y="501.84" font-size="11.6" text-anchor="end" fill="#1a1a1a" stroke="#1a1a1a" stroke-width="0.25">20</text>
<line x1="361.70" y1="523.30" x2="361.70" y2="527.30" stroke="#333" stroke-width="1.2"/>
<text x="361.70" y="540.40" font-size="11.6" text-anchor="middle" fill="#1a1a1a" stroke="#1a1a1a" stroke-width="0.25">20</text>
<line x1="332.20" y1="471.98" x2="336.20" y2="471.98" stroke="#333" stroke-width="1.2"/>
<text x="330.20" y="476.18" font-size="11.6" text-anchor="end" fill="#1a1a1a" stroke="#1a1a1a" stroke-width="0.25">40</text>
<line x1="387.20" y1="523.30" x2="387.20" y2="527.30" stroke="#333" stroke-width="1.2"/>
<text x="387.20" y="540.40" font-size="11.6" text-anchor="middle" fill="#1a1a1a" stroke="#1a1a1a" stroke-width="0.25">40</text>
<line x1="332.20" y1="446.32" x2="336.20" y2="446.32" stroke="#333" stroke-width="1.2"/>
<text x="330.20" y="450.52" font-size="11.6" text-anchor="end" fill="#1a1a1a" stroke="#1a1a1a" stroke-width="0.25">60</text>
<line x1="412.70" y1="523.30" x2="412.70" y2="527.30" stroke="#333" stroke-width="1.2"/>
<text x="412.70" y="540.40" font-size="11.6" text-anchor="middle" fill="#1a1a1a" stroke="#1a1a1a" stroke-width="0.25">60</text>
<line x1="332.20" y1="420.66" x2="336.20" y2="420.66" stroke="#333" stroke-width="1.2"/>
<text x="330.20" y="424.86" font-size="11.6" text-anchor="end" fill="#1a1a1a" stroke="#1a1a1a" stroke-width="0.25">80</text>
<line x1="438.20" y1="523.30" x2="438.20" y2="527.30" stroke="#333" stroke-width="1.2"/>
<text x="438.20" y="540.40" font-size="11.6" text-anchor="middle" fill="#1a1a1a" stroke="#1a1a1a" stroke-width="0.25">80</text>
<text x="306.00" y="470.90" font-size="11.6" text-anchor="middle" transform="rotate(-90 306.00 470.90)" fill="#1a1a1a" stroke="#1a1a1a" stroke-width="0.25">pan-KIR+ CD8 T cells (%)</text>
<text x="346.20" y="557.70" font-size="11.7" text-anchor="start" fill="#1a1a1a" stroke="#1a1a1a" stroke-width="0.25">pan-KIR+ NK cells (%)</text>
<g fill="#000"><circle cx="354.9" cy="471.9" r="2.6"/><circle cx="410.3" cy="428.5" r="2.6"/><circle cx="385.4" cy="436.5" r="2.6"/><circle cx="394.2" cy="444.2" r="2.6"/><circle cx="417.7" cy="440.5" r="2.6"/><circle cx="388.2" cy="451.5" r="2.6"/><circle cx="403.4" cy="450.4" r="2.6"/><circle cx="414.9" cy="449.2" r="2.6"/><circle cx="417.2" cy="452.7" r="2.6"/><circle cx="425.1" cy="449.2" r="2.6"/><circle cx="396.9" cy="461.9" r="2.6"/><circle cx="412.6" cy="463.5" r="2.6"/><circle cx="416.5" cy="462.6" r="2.6"/><circle cx="419.5" cy="463.1" r="2.6"/><circle cx="423.5" cy="466.5" r="2.6"/><circle cx="404.3" cy="470.0" r="2.6"/><circle cx="392.3" cy="477.4" r="2.6"/><circle cx="386.5" cy="482.7" r="2.6"/><circle cx="388.8" cy="486.6" r="2.6"/><circle cx="424.2" cy="483.8" r="2.6"/><circle cx="402.7" cy="490.8" r="2.6"/><circle cx="389.5" cy="494.5" r="2.6"/><circle cx="425.1" cy="492.6" r="2.6"/><circle cx="429.2" cy="498.2" r="2.6"/><circle cx="371.1" cy="504.6" r="2.6"/><circle cx="375.0" cy="506.5" r="2.6"/><circle cx="378.5" cy="505.8" r="2.6"/><circle cx="377.3" cy="509.2" r="2.6"/><circle cx="381.2" cy="514.3" r="2.6"/><circle cx="390.5" cy="502.8" r="2.6"/><circle cx="388.8" cy="506.5" r="2.6"/><circle cx="392.8" cy="511.1" r="2.6"/><circle cx="391.8" cy="517.3" r="2.6"/><circle cx="396.9" cy="509.7" r="2.6"/><circle cx="398.8" cy="512.0" r="2.6"/><circle cx="408.9" cy="509.7" r="2.6"/><circle cx="413.1" cy="512.7" r="2.6"/><circle cx="419.5" cy="507.4" r="2.6"/><circle cx="421.8" cy="505.1" r="2.6"/><circle cx="427.4" cy="515.0" r="2.6"/><circle cx="435.7" cy="508.8" r="2.6"/><circle cx="425.4" cy="449.2" r="2.6"/></g>
<line x1="354.90" y1="491.90" x2="435.00" y2="479.20" stroke="#000" stroke-width="1.8"/>
<text x="437.70" y="429.70" font-size="11.8" text-anchor="start" fill="#1a1a1a" stroke="#1a1a1a" stroke-width="0.25">n = 43</text>
<text x="437.70" y="442.60" font-size="11.6" text-anchor="start" fill="#1a1a1a" stroke="#1a1a1a" stroke-width="0.25">r<tspan font-size="7.5" dy="-5">2</tspan><tspan dy="5" dx="-0.6">= 0.01</tspan></text>
<text x="437.70" y="455.60" font-size="11.8" text-anchor="start" fill="#1a1a1a" stroke="#1a1a1a" stroke-width="0.25">p = n.s.</text>
<text x="0.16" y="605.30" font-size="18" text-anchor="start" font-weight="bold" fill="#000">G</text>
<text x="64.60" y="606.20" font-size="11.5" text-anchor="start" fill="#1a1a1a" stroke="#1a1a1a" stroke-width="0.25">NK cells</text>
<text x="114.90" y="606.20" font-size="11.5" text-anchor="start" fill="#1a1a1a" stroke="#1a1a1a" stroke-width="0.25">CD8 T cells</text>
<text x="11.10" y="646.20" font-size="11.4" text-anchor="start" fill="#1a1a1a" stroke="#1a1a1a" stroke-width="0.25">Donor 1</text>
<text x="11.10" y="695.40" font-size="11.4" text-anchor="start" fill="#1a1a1a" stroke="#1a1a1a" stroke-width="0.25">Donor 2</text>
<text x="11.10" y="744.40" font-size="11.4" text-anchor="start" fill="#1a1a1a" stroke="#1a1a1a" stroke-width="0.25">Donor 3</text>
<path d="M86.20 642.60 L86.20 622.60 A20.0 20.0 0 0 1 105.56 637.59 Z" fill="#000"/>
<path d="M86.20 642.60 L105.56 637.59 A20.0 20.0 0 0 1 87.94 662.52 Z" fill="#808080"/>
<path d="M86.20 642.60 L87.94 662.52 A20.0 20.0 0 1 1 86.20 622.60 Z" fill="#fff"/>
<circle cx="86.2" cy="642.6" r="20.0" fill="none" stroke="#111" stroke-width="1.3"/>
<path d="M145.30 642.60 L145.30 622.60 A20.0 20.0 0 1 1 133.54 626.42 Z" fill="#000"/>
<path d="M145.30 642.60 L133.54 626.42 A20.0 20.0 0 0 1 135.30 625.28 Z" fill="#808080"/>
<path d="M145.30 642.60 L135.30 625.28 A20.0 20.0 0 0 1 145.30 622.60 Z" fill="#fff"/>
<circle cx="145.3" cy="642.6" r="20.0" fill="none" stroke="#111" stroke-width="1.3"/>
<path d="M86.20 692.10 L86.20 672.10 A20.0 20.0 0 1 1 66.88 686.92 Z" fill="#000"/>
<path d="M86.20 692.10 L66.88 686.92 A20.0 20.0 0 0 1 73.34 676.78 Z" fill="#808080"/>
<path d="M86.20 692.10 L73.34 676.78 A20.0 20.0 0 0 1 86.20 672.10 Z" fill="#fff"/>
<circle cx="86.2" cy="692.1" r="20.0" fill="none" stroke="#111" stroke-width="1.3"/>
<path d="M145.40 692.20 L145.40 672.20 A20.0 20.0 0 0 1 149.90 672.71 Z" fill="#000"/>
<path d="M145.40 692.20 L149.90 672.71 A20.0 20.0 0 1 1 133.09 676.44 Z" fill="#808080"/>
<path d="M145.40 692.20 L133.09 676.44 A20.0 20.0 0 0 1 145.40 672.20 Z" fill="#fff"/>
<circle cx="145.4" cy="692.2" r="20.0" fill="none" stroke="#111" stroke-width="1.3"/>
<path d="M86.20 741.00 L86.20 721.00 A20.0 20.0 0 0 1 106.11 742.88 Z" fill="#000"/>
<path d="M86.20 741.00 L106.11 742.88 A20.0 20.0 0 0 1 70.99 753.99 Z" fill="#808080"/>
<path d="M86.20 741.00 L70.99 753.99 A20.0 20.0 0 0 1 86.20 721.00 Z" fill="#fff"/>
<circle cx="86.2" cy="741.0" r="20.0" fill="none" stroke="#111" stroke-width="1.3"/>
<path d="M145.30 741.00 L145.30 721.00 A20.0 20.0 0 0 1 164.86 736.84 Z" fill="#000"/>
<path d="M145.30 741.00 L164.86 736.84 A20.0 20.0 0 0 1 165.09 743.92 Z" fill="#808080"/>
<path d="M145.30 741.00 L165.09 743.92 A20.0 20.0 0 1 1 145.30 721.00 Z" fill="#fff"/>
<circle cx="145.3" cy="741.0" r="20.0" fill="none" stroke="#111" stroke-width="1.3"/>
<rect x="185.60" y="625.40" width="17.30" height="10.00" fill="#000"/>
<rect x="186.3" y="644.8" width="16.0" height="8.8" fill="#737373" stroke="#111" stroke-width="1.5"/>
<rect x="186.3" y="663.3" width="16.0" height="8.8" fill="#fff" stroke="#111" stroke-width="1.5"/>
<text x="210.70" y="633.80" font-size="11.3" text-anchor="start" fill="#1a1a1a" stroke="#1a1a1a" stroke-width="0.25">KIR2DL1</text>
<text x="210.70" y="652.30" font-size="11.3" text-anchor="start" fill="#1a1a1a" stroke="#1a1a1a" stroke-width="0.25">KIR2DL3</text>
<text x="210.70" y="671.20" font-size="11.3" text-anchor="start" fill="#1a1a1a" stroke="#1a1a1a" stroke-width="0.25">KIR3DL1</text>
</svg>
</body></html>
